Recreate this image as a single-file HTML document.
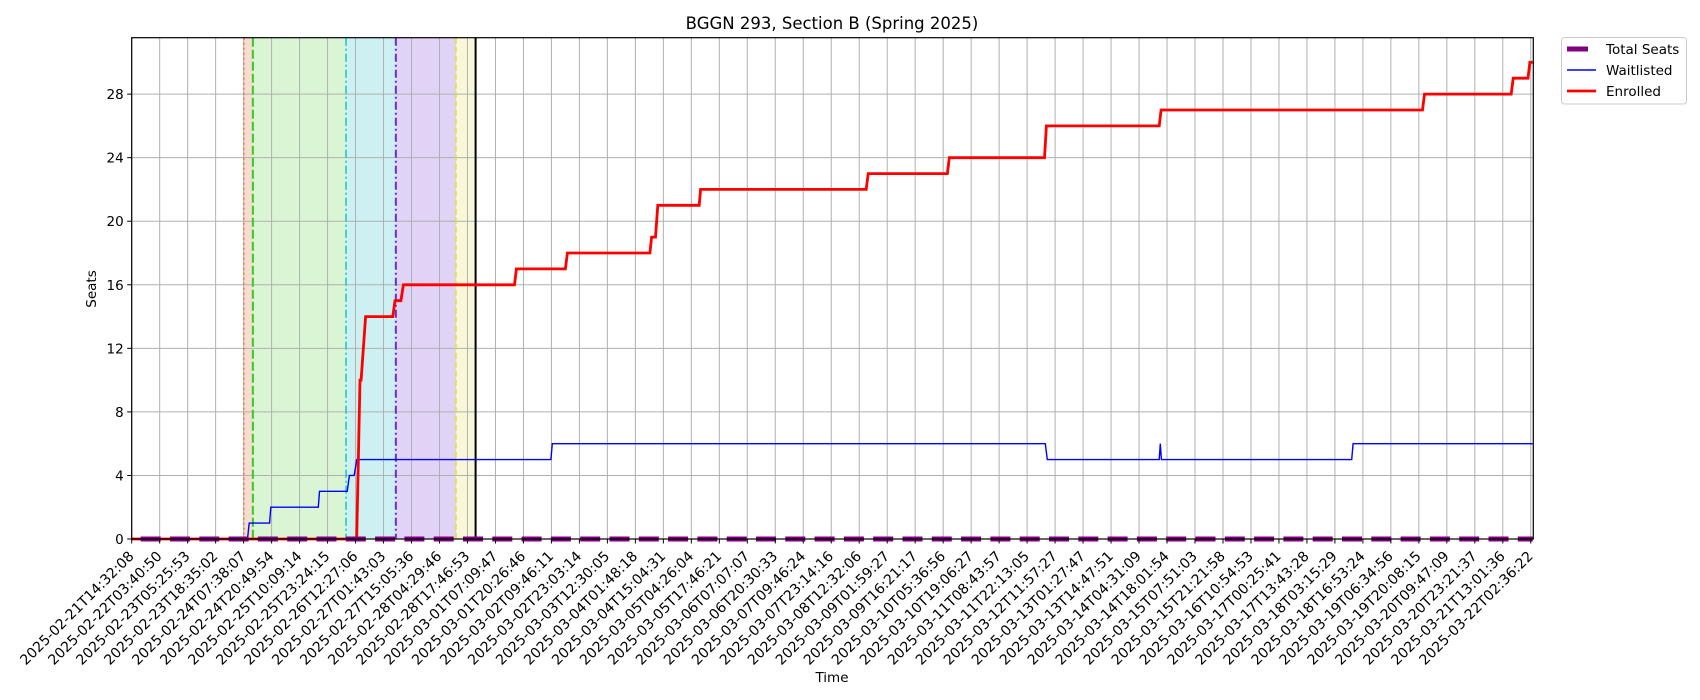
<!DOCTYPE html>
<html><head><meta charset="utf-8"><style>
body{margin:0;background:#fff;}
svg{display:block;font-family:"DejaVu Sans","Liberation Sans",sans-serif;}
</style></head><body>
<svg id="chart" width="1700" height="700" xmlns="http://www.w3.org/2000/svg">
<text x="832" y="29" font-size="16.5" text-anchor="middle">BGGN 293, Section B (Spring 2025)</text>
<text x="832" y="682" font-size="13.5" text-anchor="middle">Time</text>
<text transform="translate(96,289) rotate(-90)" font-size="13.5" text-anchor="middle">Seats</text>
<g id="plot"></g>
<g>
<rect x="1561.5" y="37.5" width="125" height="66.5" rx="3" fill="#fff" stroke="#ccc"/>
<g><line x1="1567" y1="49" x2="1588" y2="49" stroke="#800080" stroke-width="5"/><text x="1606" y="54" font-size="13.5">Total Seats</text></g>
<g><line x1="1567" y1="70" x2="1596" y2="70" stroke="#0000ff" stroke-width="1.4"/><text x="1606" y="75" font-size="13.5">Waitlisted</text></g>
<g><line x1="1567" y1="91" x2="1596" y2="91" stroke="#ff0000" stroke-width="2.8"/><text x="1606" y="96" font-size="13.5">Enrolled</text></g>
</g>
</svg>
<script>
const tickLabels=["2025-02-21T14:32:08","2025-02-22T03:40:50","2025-02-23T05:25:53","2025-02-23T18:35:02","2025-02-24T07:38:07","2025-02-24T20:49:54","2025-02-25T10:09:14","2025-02-25T23:24:15","2025-02-26T12:27:06","2025-02-27T01:43:03","2025-02-27T15:05:36","2025-02-28T04:29:46","2025-02-28T17:46:53","2025-03-01T07:09:47","2025-03-01T20:26:46","2025-03-02T09:46:11","2025-03-02T23:03:14","2025-03-03T12:30:05","2025-03-04T01:48:18","2025-03-04T15:04:31","2025-03-05T04:26:04","2025-03-05T17:46:21","2025-03-06T07:07:07","2025-03-06T20:30:33","2025-03-07T09:46:24","2025-03-07T23:14:16","2025-03-08T12:32:06","2025-03-09T01:59:27","2025-03-09T16:21:17","2025-03-10T05:36:56","2025-03-10T19:06:27","2025-03-11T08:43:57","2025-03-11T22:13:05","2025-03-12T11:57:27","2025-03-13T01:27:47","2025-03-13T14:47:51","2025-03-14T04:31:09","2025-03-14T18:01:54","2025-03-15T07:51:03","2025-03-15T21:21:58","2025-03-16T10:54:53","2025-03-17T00:25:41","2025-03-17T13:43:28","2025-03-18T03:15:29","2025-03-18T16:53:24","2025-03-19T06:34:56","2025-03-19T20:08:15","2025-03-20T09:47:09","2025-03-20T23:21:37","2025-03-21T13:01:36","2025-03-22T02:36:22"];
const yTicks=[0,4,8,12,16,20,24,28];
const enrolledX=[0,8.04,8.16,8.2,8.36,9.33,9.41,9.62,9.71,13.68,13.75,15.5,15.57,18.52,18.58,18.72,18.8,20.28,20.33,26.25,26.32,29.15,29.22,32.62,32.69,36.72,36.79,46.13,46.2,49.3,49.37,49.9,49.97,50.07];
const enrolledY=[0,0,10,10,14,14,15,15,16,16,17,17,18,18,19,19,21,21,22,22,23,23,24,24,26,26,27,27,28,28,29,29,30,30];
const waitX=[0,4.14,4.2,4.93,4.97,6.67,6.71,7.7,7.78,7.95,8.04,14.98,15.03,32.65,32.72,36.72,36.76,36.8,43.6,43.65,50.07];
const waitY=[0,0,1,1,2,2,3,3,4,4,5,5,6,6,5,5,6,5,5,6,6];
const totalX=[0,50.07];
const totalY=[0,0];
const phaseStarts=[4.01,4.33,7.66,9.44,11.59];
const phaseEnds=[4.33,7.66,9.44,11.59,12.29];
const markerX=[4.01,4.33,7.66,9.44,11.59,12.29];

const L=131.7,R=1533.3,T=37.7,B=539,XMAX=50.09,YMAX=31.55;
const sx=u=>L+u/XMAX*(R-L);
const sy=v=>B-v/YMAX*(B-T);
const NS="http://www.w3.org/2000/svg";
const plot=document.getElementById('plot');
function mk(tag,attrs,parent){const e=document.createElementNS(NS,tag);for(const k in attrs)e.setAttribute(k,attrs[k]);(parent||plot).appendChild(e);return e;}

const fills=["#f7ddd0","#daf5d3","#cdf1f2","#e1d3f5","#f8f7d8"];
phaseStarts.forEach((s,i)=>{
  const r=mk('rect',{x:sx(s),y:T,width:sx(phaseEnds[i])-sx(s),height:B-T,fill:fills[i]});
  
  
});
tickLabels.forEach((t,i)=>{
  const g=mk('line',{x1:sx(i),x2:sx(i),y1:T,y2:B,stroke:"#b0b0b0","stroke-width":1});
  
  
});
yTicks.forEach(v=>{
  const g=mk('line',{x1:L,x2:R,y1:sy(v),y2:sy(v),stroke:"#b0b0b0","stroke-width":1});
  
  
});
const mStyles=[["#f07a3a","2,3",1.5],["#33cc22","9,3",2],["#11c8d0","8,3,2,3",1.5],["#6a2cd0","8,3,2,3",2],["#e0e030","6,3",1.5],["#000","",2]];
markerX.forEach((m,i)=>{
  const s=mStyles[i];
  const l=mk('line',{x1:sx(m),x2:sx(m),y1:T,y2:B,stroke:s[0],"stroke-width":s[2],"stroke-dasharray":s[1]});
  
  
});
function pts(X,Y){return X.map((x,i)=>sx(x).toFixed(1)+","+sy(Y[i]).toFixed(1)).join(" ");}
const w=mk('polyline',{points:pts(waitX,waitY),fill:"none",stroke:"#0000ff","stroke-width":1.4});


const e=mk('polyline',{points:pts(enrolledX,enrolledY),fill:"none",stroke:"#ff0000","stroke-width":2.8});


const ts=mk('polyline',{points:pts(totalX,totalY),fill:"none",stroke:"#800080","stroke-width":5,"stroke-dasharray":"20,9.3","stroke-dashoffset":"-9"});


const fr=mk('rect',{x:L,y:T,width:R-L,height:B-T,fill:"none",stroke:"#000","stroke-width":1.2});


tickLabels.forEach((t,i)=>{
  const x=sx(i);
  mk('line',{x1:x,x2:x,y1:B,y2:B+4.5,stroke:"#000","stroke-width":1});
  const tx=mk('text',{transform:`translate(${(x+3).toFixed(1)},${B+18}) rotate(-45)`,"text-anchor":"end","font-size":"14.1"});
  tx.textContent=t;
  
  
});
yTicks.forEach(v=>{
  mk('line',{x1:L-4.5,x2:L,y1:sy(v),y2:sy(v),stroke:"#000","stroke-width":1});
  const tx=mk('text',{x:L-8,y:sy(v)+5,"text-anchor":"end","font-size":"13.5"});
  tx.textContent=v;
  
  
});
</script>
</body></html>
